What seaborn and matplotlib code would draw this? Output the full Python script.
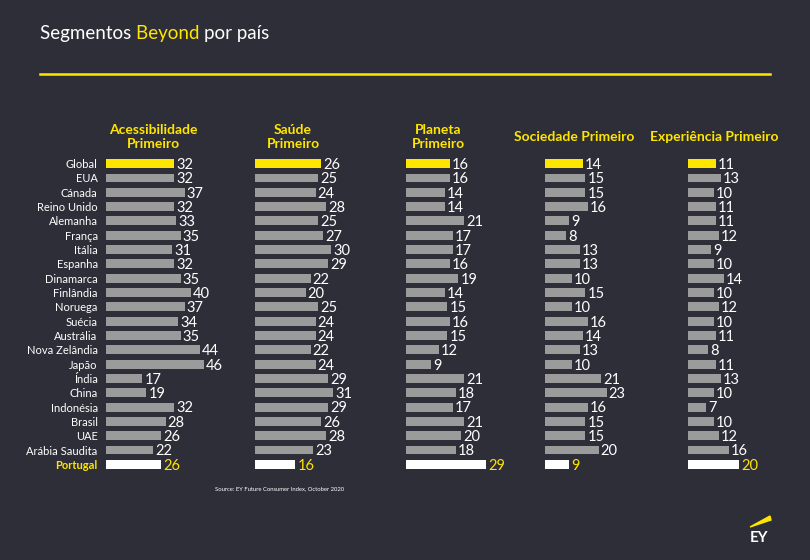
import matplotlib
matplotlib.use("Agg")
import matplotlib.pyplot as plt
import seaborn as sns
from matplotlib.patches import Polygon

# data
countries = ["Global", "EUA", "Cánada", "Reino Unido", "Alemanha", "França", "Itália",
             "Espanha", "Dinamarca", "Finlândia", "Noruega", "Suécia", "Austrália",
             "Nova Zelândia", "Japão", "Índia", "China", "Indonésia", "Brasil", "UAE",
             "Arábia Saudita", "Portugal"]
segments = ["Acessibilidade\nPrimeiro", "Saúde\nPrimeiro", "Planeta\nPrimeiro",
            "Sociedade Primeiro", "Experiência Primeiro"]
acessibilidade = [32, 32, 37, 32, 33, 35, 31, 32, 35, 40, 37, 34, 35, 44, 46, 17, 19, 32, 28, 26, 22, 26]
saude = [26, 25, 24, 28, 25, 27, 30, 29, 22, 20, 25, 24, 24, 22, 24, 29, 31, 29, 26, 28, 23, 16]
planeta = [16, 16, 14, 14, 21, 17, 17, 16, 19, 14, 15, 16, 15, 12, 9, 21, 18, 17, 21, 20, 18, 29]
sociedade = [14, 15, 15, 16, 9, 8, 13, 13, 10, 15, 10, 16, 14, 13, 10, 21, 23, 16, 15, 15, 20, 9]
experiencia = [11, 13, 10, 11, 11, 12, 9, 10, 14, 10, 12, 10, 11, 8, 11, 13, 10, 7, 10, 12, 16, 20]

BG = "#2e2e38"
YELLOW = "#ffe600"
GREY = "#9b9b9b"

plt.rcParams["font.family"] = ["Lato", "DejaVu Sans"]

fig = plt.figure(figsize=(8.1, 5.6), dpi=100, facecolor=BG)
W, H = 810, 560

palette = {c: GREY for c in countries}
palette["Global"] = YELLOW
palette["Portugal"] = "#ffffff"

# column layout (pixel x start, px per unit, header x, header y)
starts = [106, 255, 406, 545, 688]
scales = [2.13, 2.53, 2.75, 2.68, 2.55]
head_x = [153, 293, 438, 574, 714]
head_y = [137, 137, 137, 137, 137]
series = [acessibilidade, saude, planeta, sociedade, experiencia]

top_px, bot_px = 164 - 7.5, 464 + 7.5
ax_w = 100
for i, vals in enumerate(series):
    ax = fig.add_axes([starts[i] / W, 1 - bot_px / H, ax_w / W, (bot_px - top_px) / H])
    ax.set_facecolor("none")
    sns.barplot(x=vals, y=countries, hue=countries, palette=palette, legend=False,
                orient="h", width=0.62, ax=ax, saturation=1)
    ax.set_xlim(0, ax_w / scales[i])
    ax.set_ylim(len(countries) - 0.5, -0.5)
    for s in ax.spines.values():
        s.set_visible(False)
    ax.set_xticks([])
    ax.set_xlabel("")
    ax.set_ylabel("")
    if i == 0:
        ax.tick_params(axis="y", length=0, pad=6, labelsize=8, labelcolor="white")
        for lbl in ax.get_yticklabels():
            if lbl.get_text() == "Portugal":
                lbl.set_color(YELLOW)
                lbl.set_fontweight("bold")
    else:
        ax.set_yticks([])
    for p in ax.patches:
        if p.get_width() == 0:
            continue
        y = p.get_y() + p.get_height() / 2
        is_pt = abs(y - (len(countries) - 1)) < 0.01
        ax.annotate(f"{int(round(p.get_width()))}", (p.get_width(), y),
                    xytext=(1.5, -1), textcoords="offset points", va="center", ha="left",
                    fontsize=10.5, color=YELLOW if is_pt else "white", annotation_clip=False)
    fig.text(head_x[i] / W, 1 - head_y[i] / H, segments[i], ha="center", va="center",
             fontsize=10, fontweight="bold", color=YELLOW, linespacing=1.1)

# title
t1 = fig.text(40 / W, 1 - 33 / H, "Segmentos ", color="white", fontsize=13.5, va="center")
fig.canvas.draw()
r = fig.canvas.get_renderer()
bb = t1.get_window_extent(r)
t2 = fig.text(bb.x1 / W, 1 - 33 / H, "Beyond ", color=YELLOW, fontsize=13.5, va="center")
bb2 = t2.get_window_extent(r)
fig.text(bb2.x1 / W, 1 - 33 / H, "por país", color="white", fontsize=13.5, va="center")

# yellow rule
fig.add_artist(plt.Line2D([40 / W, 770 / W], [1 - 74 / H, 1 - 74 / H], color=YELLOW, lw=1.8))

fig.text(215 / W, 1 - 489 / H, "Source: EY Future Consumer Index, October 2020",
         color="white", fontsize=4.2, va="center")

# EY logo
fig.add_artist(Polygon([[750 / W, 1 - 527 / H], [771 / W, 1 - 520 / H], [770 / W, 1 - 516 / H]],
                       closed=True, color=YELLOW, transform=fig.transFigure))
fig.text(759 / W, 1 - 538 / H, "EY", color="white", fontsize=11, fontweight="bold",
         ha="center", va="center")

fig.savefig("out.png", dpi=100, facecolor=BG)
